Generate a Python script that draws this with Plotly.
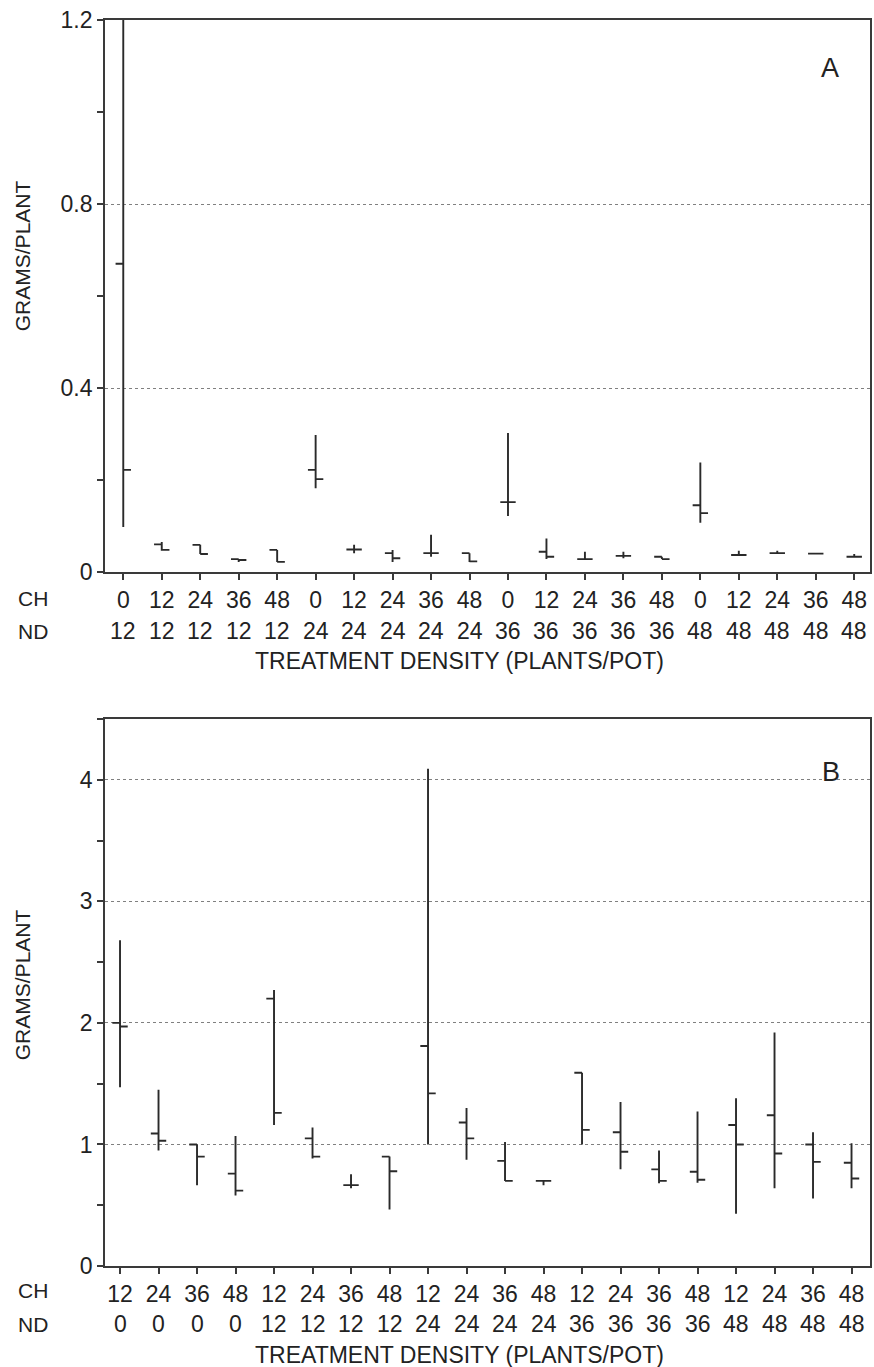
import plotly.graph_objects as go

# ---------------- data ----------------
pos = list(range(20))

CH_A = ["0", "12", "24", "36", "48"] * 4
ND_A = ["12"] * 5 + ["24"] * 5 + ["36"] * 5 + ["48"] * 5
A_open = [0.67, 0.060, 0.059, 0.028, 0.048, 0.222, 0.049, 0.041, 0.041, 0.041,
          0.152, 0.044, 0.028, 0.035, 0.033, 0.145, 0.037, 0.041, 0.040, 0.033]
A_high = [1.20, 0.065, 0.059, 0.028, 0.048, 0.298, 0.059, 0.048, 0.081, 0.041,
          0.302, 0.073, 0.044, 0.044, 0.033, 0.238, 0.046, 0.046, 0.040, 0.039]
A_low = [0.098, 0.046, 0.039, 0.022, 0.022, 0.182, 0.041, 0.022, 0.033, 0.022,
         0.122, 0.028, 0.028, 0.030, 0.028, 0.107, 0.037, 0.039, 0.040, 0.032]
A_close = [0.222, 0.048, 0.039, 0.026, 0.022, 0.202, 0.049, 0.030, 0.041, 0.023,
           0.152, 0.033, 0.028, 0.035, 0.028, 0.128, 0.037, 0.041, 0.040, 0.033]

CH_B = ["12", "24", "36", "48"] * 5
ND_B = ["0"] * 4 + ["12"] * 4 + ["24"] * 4 + ["36"] * 4 + ["48"] * 4
B_open = [2.00, 1.09, 1.00, 0.76, 2.20, 1.05, 0.665, 0.90, 1.81, 1.18,
          0.865, 0.70, 1.59, 1.10, 0.795, 0.775, 1.16, 1.24, 1.00, 0.85]
B_high = [2.68, 1.45, 1.00, 1.07, 2.27, 1.14, 0.755, 0.90, 4.09, 1.30,
          1.02, 0.70, 1.59, 1.35, 0.95, 1.27, 1.38, 1.92, 1.10, 1.01]
B_low = [1.47, 0.95, 0.665, 0.58, 1.16, 0.885, 0.64, 0.465, 1.00, 0.875,
         0.70, 0.665, 1.00, 0.795, 0.68, 0.685, 0.43, 0.64, 0.555, 0.64]
B_close = [1.97, 1.03, 0.90, 0.62, 1.26, 0.90, 0.665, 0.78, 1.42, 1.05,
           0.70, 0.70, 1.12, 0.94, 0.70, 0.71, 1.00, 0.925, 0.857, 0.72]

# ---------------- styling ----------------
FONT = "Liberation Sans, Arial, Helvetica, sans-serif"
INK = "#2a2a2a"
AX = "#3a3a3a"
GRID = "#808080"
TXT = "#222"

W, H = 874, 1367
L, R, T, B = 105, 2, 20, 101
PW, PH = W - L - R, H - T - B


def px(xp):
    return (xp - L) / PW


def py(yp):
    return (H - B - yp) / PH


fig = go.Figure()

line_style = dict(color=INK, width=1.9)
fig.add_trace(go.Ohlc(x=pos, open=A_open, high=A_high, low=A_low, close=A_close,
                      xaxis="x", yaxis="y", tickwidth=0.2,
                      increasing=dict(line=line_style), decreasing=dict(line=line_style),
                      showlegend=False, hoverinfo="skip"))
fig.add_trace(go.Ohlc(x=pos, open=B_open, high=B_high, low=B_low, close=B_close,
                      xaxis="x2", yaxis="y2", tickwidth=0.2,
                      increasing=dict(line=line_style), decreasing=dict(line=line_style),
                      showlegend=False, hoverinfo="skip"))

domA = [py(572), 1.0]
domB = [0.0, py(719)]
rangeA = [-0.475, 19.41]
rangeB = [-0.39, 19.48]

TS = 23
tickfont = dict(family=FONT, size=TS, color=TXT)

xcommon = dict(tickmode="array", tickvals=pos, ticks="outside", ticklen=6, tickwidth=1.5,
               tickcolor=AX, showline=True, linecolor=AX, linewidth=1.9, mirror=True,
               showgrid=False, zeroline=False, tickfont=tickfont,
               rangeslider=dict(visible=False), fixedrange=True)

ycommon = dict(ticks="outside", ticklen=6, tickwidth=1.5, tickcolor=AX, showline=True,
               linecolor=AX, linewidth=1.9, mirror=True, showgrid=True, gridcolor=GRID,
               griddash="dot", gridwidth=1.4, zeroline=False, tickfont=tickfont,
               fixedrange=True)

fig.update_layout(
    width=W, height=H,
    margin=dict(l=L, r=R, t=T, b=B),
    paper_bgcolor="white", plot_bgcolor="white",
    font=dict(family=FONT, color=TXT),
    xaxis=dict(domain=[0, 1], anchor="y", range=rangeA, ticktext=CH_A, **xcommon),
    yaxis=dict(domain=domA, anchor="x", range=[0, 1.2], tick0=0, dtick=0.4,
               minor=dict(dtick=0.2, ticks="outside", ticklen=6, tickcolor=AX, showgrid=False),
               **ycommon),
    xaxis2=dict(domain=[0, 1], anchor="y2", range=rangeB, ticktext=CH_B, **xcommon),
    yaxis2=dict(domain=domB, anchor="x2", range=[0, 4.5], tick0=0, dtick=1,
                minor=dict(dtick=0.5, ticks="outside", ticklen=6, tickcolor=AX, showgrid=False),
                **ycommon),
)

lab = dict(family=FONT, size=21, color=TXT)
ann = []
# second row of tick labels (ND), placed at the data x positions
for xref, labels, yy in [("x", ND_A, 631), ("x2", ND_B, 1324)]:
    for xv, t in zip(pos, labels):
        ann.append(dict(x=xv, y=py(yy), text=t, showarrow=False, font=tickfont,
                        xref=xref, yref="paper", xanchor="center", yanchor="middle"))
# row labels
for yy_ch, yy_nd in [(598, 631), (1290, 1324)]:
    ann.append(dict(x=px(33), y=py(yy_ch), text="CH", showarrow=False, font=lab,
                    xref="paper", yref="paper", xanchor="center", yanchor="middle"))
    ann.append(dict(x=px(33), y=py(yy_nd), text="ND", showarrow=False, font=lab,
                    xref="paper", yref="paper", xanchor="center", yanchor="middle"))
# x titles
for yy in [661, 1355]:
    ann.append(dict(x=px(460), y=py(yy), text="TREATMENT DENSITY (PLANTS/POT)", showarrow=False,
                    font=dict(family=FONT, size=23, color=TXT),
                    xref="paper", yref="paper", xanchor="center", yanchor="middle"))
# y titles
for yy in [256, 985]:
    ann.append(dict(x=px(22), y=py(yy), text="GRAMS/PLANT", showarrow=False, textangle=-90,
                    font=dict(family=FONT, size=21, color=TXT),
                    xref="paper", yref="paper", xanchor="center", yanchor="middle"))
# panel letters
ann.append(dict(x=px(832), y=py(68), text="A", showarrow=False,
                font=dict(family=FONT, size=27, color=TXT),
                xref="paper", yref="paper", xanchor="center", yanchor="middle"))
ann.append(dict(x=px(833), y=py(772), text="B", showarrow=False,
                font=dict(family=FONT, size=27, color=TXT),
                xref="paper", yref="paper", xanchor="center", yanchor="middle"))
fig.update_layout(annotations=ann)

fig.write_html("out.html")
